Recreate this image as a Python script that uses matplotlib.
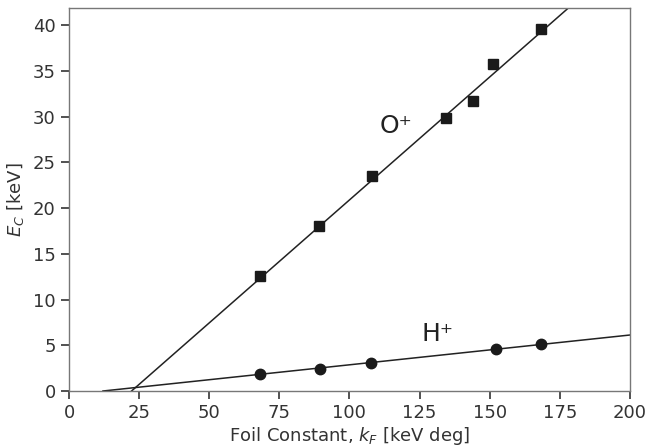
import matplotlib
matplotlib.use("Agg")
import matplotlib.pyplot as plt
import numpy as np

# Data
o_kf = [68.1, 89.1, 108.0, 134.4, 144.0, 151.2, 168.3]
o_ec = [12.6, 18.0, 23.5, 29.9, 31.7, 35.8, 39.6]
h_kf = [68.0, 89.5, 107.7, 152.2, 168.3]
h_ec = [1.86, 2.4, 3.06, 4.6, 5.1]

# Fit lines: E = slope * (kF - threshold)
o_slope, o_thresh = 0.269, 22.3
h_slope, h_thresh = 0.0326, 12.1

x_ticks = [0, 25, 50, 75, 100, 125, 150, 175, 200]
y_ticks = [0, 5, 10, 15, 20, 25, 30, 35, 40]

fig = plt.figure(figsize=(6.48, 4.46), dpi=100)
ax = fig.add_axes([0.1065, 0.1233, 0.8655, 0.8587])

xo = np.linspace(o_thresh, 200, 200)
ax.plot(xo, o_slope * (xo - o_thresh), color='#222222', lw=1.1)
xh = np.linspace(h_thresh, 200, 200)
ax.plot(xh, h_slope * (xh - h_thresh), color='#222222', lw=1.1)

ax.plot(o_kf, o_ec, 's', color='#1a1a1a', ms=7.5, ls='none')
ax.plot(h_kf, h_ec, 'o', color='#1a1a1a', ms=7.5, ls='none')

ax.text(116.5, 29.0, 'O\u207a', fontsize=18, ha='center', va='center', color='#222222')
ax.text(131.5, 6.2, 'H\u207a', fontsize=18, ha='center', va='center', color='#222222')

ax.set_xlim(0, 200)
ax.set_ylim(0, 41.9)
ax.set_xticks(x_ticks)
ax.set_yticks(y_ticks)
for s in ax.spines.values():
    s.set_color('#777777')
    s.set_linewidth(1.0)
ax.tick_params(direction='out', length=6, width=1.2, color='#333333',
               labelsize=13, labelcolor='#333333')
ax.set_xlabel('Foil Constant, $k_F$ [keV deg]', fontsize=13, color='#333333', labelpad=2)
ax.set_ylabel('$E_C$ [keV]', fontsize=13, color='#333333', labelpad=5)

fig.savefig('out.png', dpi=100)
